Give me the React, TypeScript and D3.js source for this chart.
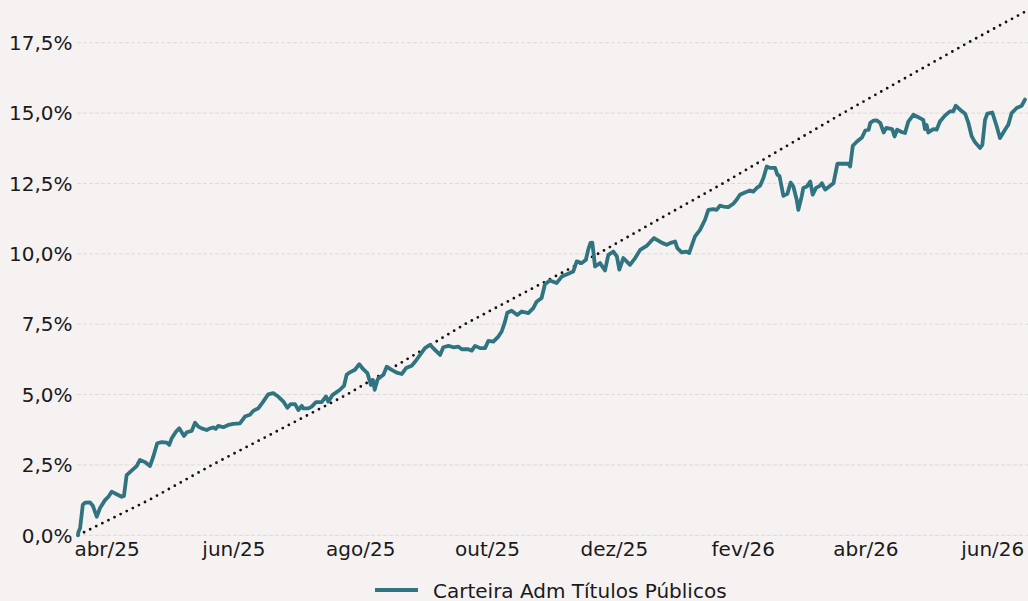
import React from 'react'
import * as d3 from 'd3'

// dias corridos desde o início (18/03/2025) e retorno acumulado em %
const carteiraDias = [
  0, 0.2, 1.0, 2.3, 3.4, 5.8, 7.2, 9.0, 10.6, 13.0, 14.6, 16.2, 18.6, 21.0, 22.1, 23.4, 25.8, 28.2, 29.8, 32.2,
  34.6, 36.2, 38.1, 40.3, 42.7, 43.9, 45.1, 47.1, 48.7, 51.0, 52.3, 54.7, 56.3, 57.9, 59.5, 61.9, 63.5, 65.1, 66.2, 67.5,
  69.9, 72.3, 74.7, 77.9, 80.3, 82.7, 84.3, 86.7, 89.1, 91.5, 93.9, 96.3, 98.8, 100.7, 102.3, 104.4, 106.0, 107.6, 108.4, 110.8,
  112.4, 114.5, 117.2, 119.3, 120.4, 122.5, 126.0, 128.0, 129.2, 130.8, 133.2, 135.3, 137.2, 139.2, 140.9, 142.0, 142.7, 144.2, 146.9, 148.5,
  150.9, 153.3, 155.7, 157.8, 160.5, 162.6, 165.3, 166.9, 169.3, 171.7, 174.2, 175.7, 178.2, 180.6, 183.0, 184.6, 187.7, 189.4, 191.0, 193.4,
  195.8, 197.4, 199.8, 202.2, 203.8, 205.4, 206.5, 208.6, 211.3, 213.4, 216.6, 219.0, 220.6, 223.0, 224.6, 227.0, 230.2, 232.7, 235.8, 238.2,
  239.9, 242.3, 244.3, 245.4, 246.5, 247.4, 248.7, 251.1, 253.5, 255.1, 257.5, 259.2, 260.4, 262.3, 263.9, 265.5, 268.0, 270.4, 273.5, 275.5,
  277.1, 279.1, 281.2, 283.2, 284.8, 287.2, 288.3, 290.4, 292.5, 294.0, 296.8, 299.2, 301.6, 303.2, 305.6, 307.2, 308.8, 310.4, 312.8, 315.2,
  316.8, 318.4, 320.8, 323.2, 324.8, 326.5, 328.1, 329.7, 331.3, 332.9, 335.3, 336.4, 337.4, 339.3, 341.2, 342.8, 344.1, 345.7, 346.5, 348.1,
  348.9, 350.6, 352.2, 353.4, 355.0, 357.0, 357.8, 359.4, 361.8, 363.4, 365.3, 368.2, 370.6, 371.4, 372.7, 374.7, 377.1, 378.7, 380.3, 381.1,
  382.7, 384.3, 385.9, 387.5, 388.8, 391.6, 392.8, 394.0, 396.2, 397.8, 399.4, 401.8, 404.2, 406.6, 407.4, 408.2, 409.0, 411.4, 413.0, 414.6,
  417.0, 419.4, 421.0, 422.2, 424.3, 426.7, 428.3, 429.9, 431.5, 433.9, 435.0, 436.3, 437.4, 439.8, 441.9, 443.5, 445.9, 447.5, 449.1, 451.5,
  453.9, 455.5,
]
const carteiraValores = [
  0.00, 0.12, 0.25, 1.08, 1.16, 1.17, 1.04, 0.66, 0.97, 1.25, 1.37, 1.55, 1.46, 1.37, 1.40, 2.14, 2.30, 2.46, 2.68, 2.60,
  2.46, 2.79, 3.27, 3.31, 3.29, 3.21, 3.45, 3.68, 3.80, 3.53, 3.66, 3.71, 4.00, 3.86, 3.80, 3.74, 3.80, 3.83, 3.78, 3.89,
  3.84, 3.92, 3.96, 3.98, 4.22, 4.28, 4.42, 4.51, 4.75, 5.01, 5.05, 4.93, 4.75, 4.53, 4.66, 4.66, 4.45, 4.60, 4.51, 4.51,
  4.57, 4.73, 4.73, 4.93, 4.75, 4.99, 5.17, 5.32, 5.70, 5.79, 5.88, 6.08, 5.90, 5.76, 5.34, 5.50, 5.17, 5.55, 5.70, 5.99,
  5.88, 5.78, 5.73, 5.94, 6.02, 6.21, 6.49, 6.65, 6.77, 6.59, 6.41, 6.68, 6.73, 6.68, 6.70, 6.61, 6.61, 6.56, 6.73, 6.65,
  6.65, 6.91, 6.88, 7.06, 7.24, 7.59, 7.91, 7.98, 7.83, 7.95, 7.89, 8.07, 8.30, 8.43, 8.92, 9.05, 8.96, 9.19, 9.29, 9.37,
  9.73, 9.67, 9.79, 10.14, 10.39, 10.40, 9.55, 9.67, 9.41, 9.96, 10.08, 9.91, 9.44, 9.85, 9.73, 9.61, 9.85, 10.14, 10.28, 10.44,
  10.56, 10.47, 10.38, 10.32, 10.38, 10.44, 10.20, 10.05, 10.08, 10.03, 10.62, 10.85, 11.21, 11.56, 11.59, 11.56, 11.71, 11.68, 11.66, 11.78,
  11.92, 12.10, 12.18, 12.25, 12.21, 12.34, 12.42, 12.69, 13.10, 13.05, 13.05, 12.81, 12.77, 12.06, 12.13, 12.53, 12.39, 11.92, 11.56, 12.04,
  12.34, 12.39, 12.57, 12.10, 12.34, 12.42, 12.51, 12.28, 12.42, 12.51, 13.20, 13.20, 13.20, 13.10, 13.84, 13.99, 14.13, 14.38, 14.41, 14.65,
  14.73, 14.74, 14.65, 14.31, 14.47, 14.43, 14.17, 14.41, 14.33, 14.29, 14.70, 14.94, 14.85, 14.76, 14.43, 14.58, 14.31, 14.43, 14.41, 14.70,
  14.91, 15.06, 15.06, 15.26, 15.12, 14.98, 14.65, 14.17, 13.96, 13.76, 13.87, 14.76, 14.98, 15.02, 14.53, 14.11, 14.41, 14.59, 15.00, 15.18,
  15.26, 15.48,
]

// benchmark (linha pontilhada)
const benchmarkDias = [0, 34.6, 64.5, 97.0, 129.4, 157.0, 186.1, 218.0, 250.1, 280.0, 310.2, 339.0, 368.0, 398.0, 428.1, 455.5]
const benchmarkValores = [0, 1.27, 2.5, 3.75, 5.0, 6.2, 7.5, 8.75, 10.0, 11.25, 12.5, 13.75, 15.0, 16.25, 17.5, 18.6]

const yTicks = [0, 2.5, 5, 7.5, 10, 12.5, 15, 17.5]
const xTickDates = ['2025-04-01', '2025-06-01', '2025-08-01', '2025-10-01', '2025-12-01', '2026-02-01', '2026-04-01', '2026-06-01']
const xTickLabels = ['abr/25', 'jun/25', 'ago/25', 'out/25', 'dez/25', 'fev/26', 'abr/26', 'jun/26']
const legendLabel = 'Carteira Adm Títulos Públicos'

const W = 1028
const H = 601
const inicio = new Date(2025, 2, 18)
const fim = new Date(2026, 5, 17)
const font = 'DejaVu Sans, sans-serif'
const teal = '#2f7480'

function toDate(dias: number) {
  return new Date(inicio.getTime() + dias * 86400000)
}
function parseDay(s: string) {
  const [y, m, d] = s.split('-').map(Number)
  return new Date(y, m - 1, d)
}

const App = () => {
  const x = d3.scaleTime().domain([inicio, fim]).range([78, 1026])
  const y = d3.scaleLinear().domain([0, 17.5]).range([535.3, 42.7])

  const carteira = carteiraDias.map((d, i) => ({ date: toDate(d), v: carteiraValores[i] }))
  const bench = benchmarkDias.map((d, i) => ({ date: toDate(d), v: benchmarkValores[i] }))

  const line = d3.line<{ date: Date, v: number }>()
    .x(d => x(d.date))
    .y(d => y(d.v))

  const fmt = (v: number) => v.toFixed(1).replace('.', ',') + '%'

  return (
    <svg width={W} height={H} style={{ position: 'fixed', left: 0, top: 0 }} fontFamily={font}>
      <rect x={0} y={0} width={W} height={H} fill="#f6f2f1" />
      {yTicks.map(t => (
        <g key={t}>
          <line x1={77} x2={W} y1={y(t)} y2={y(t)} stroke="#dcdada" strokeWidth={1} strokeDasharray="4 2" />
          <text x={72.5} y={y(t) + 7.3} textAnchor="end" fontSize={20} fill="#1a1a1a">{fmt(t)}</text>
        </g>
      ))}
      {xTickDates.map((s, i) => (
        <text key={s} x={x(parseDay(s))} y={555.5} textAnchor="middle" fontSize={20} fill="#1a1a1a">{xTickLabels[i]}</text>
      ))}
      <path d={line(bench) || ''} fill="none" stroke="#111" strokeWidth={2.8}
        strokeDasharray="0 6.8" strokeLinecap="round" />
      <path d={line(carteira) || ''} fill="none" stroke={teal} strokeWidth={3.8}
        strokeLinejoin="round" strokeLinecap="round" />
      <line x1={375} x2={418} y1={590} y2={590} stroke={teal} strokeWidth={3.8} />
      <text x={433} y={597.5} fontSize={20} fill="#1a1a1a">{legendLabel}</text>
    </svg>
  )
}

export default App
